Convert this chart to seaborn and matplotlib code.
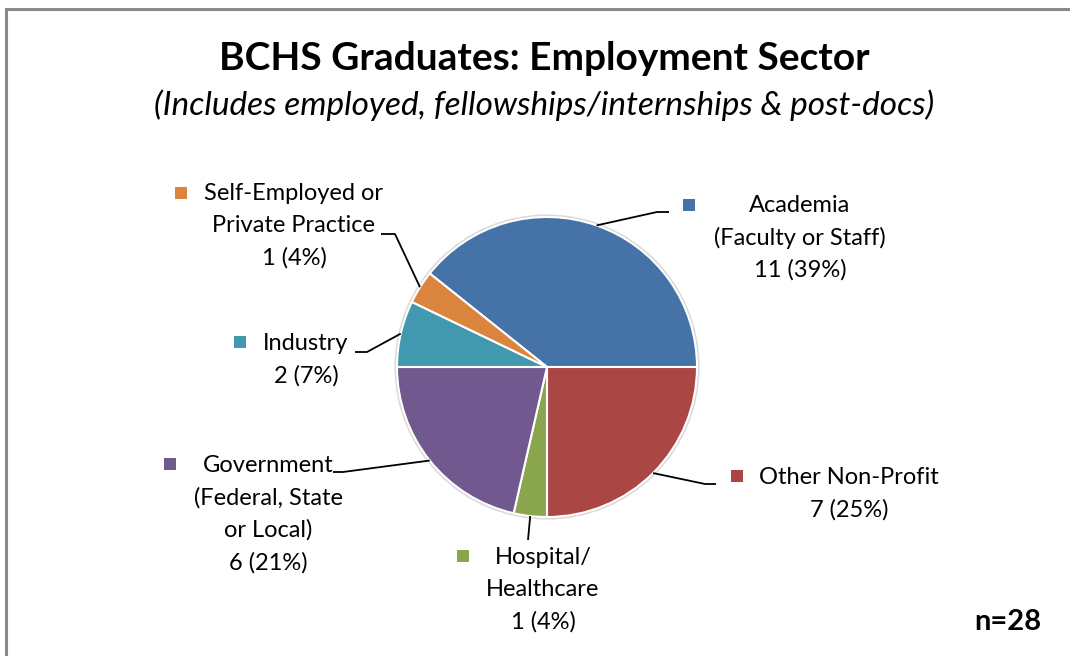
import numpy as np
import matplotlib
matplotlib.use("Agg")
import matplotlib.pyplot as plt
import seaborn as sns

# data (clockwise order, starting with Academia)
sectors = ["Academia\n(Faculty or Staff)", "Other Non-Profit", "Hospital/\nHealthcare",
           "Government\n(Federal, State\nor Local)", "Industry", "Self-Employed or\nPrivate Practice"]
counts = [11, 7, 1, 6, 2, 1]
colors = ["#4572A7", "#AA4643", "#89A54E", "#71588F", "#4198AF", "#DB843D"]

# label layout (pixel coords, y from top): text centre, legend square, elbow of leader line
label_pos = [(800, 205), (849, 477), (543, 557), (268, 465), (306, 343), (294, 193)]
square_pos = [(689, 205), (737, 476), (463, 556), (170, 464), (240, 342), (181, 193)]
elbow_pos = [[(657, 212), (669, 212)], [(705, 484), (716, 484)], [(528, 540)],
             [(343, 472), (333, 472)], [(367, 352), (355, 352)], [(395, 234), (381, 234)]]

W, H = 1070, 656
cx, cy, r = 547, 367, 150
total = sum(counts)

sns.set_style("white")
plt.rcParams["font.family"] = ["Lato", "DejaVu Sans"]
plt.rcParams["text.color"] = "black"

fig = plt.figure(figsize=(W / 100, H / 100), dpi=100)
ax = fig.add_axes([0, 0, 1, 1])

start = 360 * counts[0] / total
wedges, _ = ax.pie(counts, colors=colors, startangle=start, counterclock=False,
                   center=(cx, H - cy), radius=r,
                   wedgeprops=dict(edgecolor="white", linewidth=1.5))
ax.set_xlim(0, W)
ax.set_ylim(0, H)
ax.set_axis_off()

# faint outline around the pie
ax.add_patch(plt.Circle((cx, H - cy), r + 1.5, facecolor="none", edgecolor="#d9d9d9", lw=1.5, zorder=0))

# labels and leader lines
ang = start
for i, n in enumerate(counts):
    sweep = 360 * n / total
    mid = np.deg2rad(ang - sweep / 2)
    ang -= sweep
    x0, y0 = cx + r * np.cos(mid), (H - cy) + r * np.sin(mid)
    xs = [x0] + [p[0] for p in elbow_pos[i]]
    ys = [y0] + [H - p[1] for p in elbow_pos[i]]
    ax.plot(xs, ys, color="black", lw=1.3, solid_capstyle="butt")
    pct = round(100 * n / total)
    lx, ly = label_pos[i]
    lines = sectors[i].split("\n") + [f"{n} ({pct}%)"]
    for k, line in enumerate(lines):
        ax.text(lx, H - (ly + 32.5 * k), line, ha="center", va="center", fontsize=17, color="black")
    sx, sy = square_pos[i]
    ax.scatter([sx], [H - sy], marker="s", s=85, color=colors[i], zorder=5, linewidths=0)

# titles
ax.text(544, H - 58, "BCHS Graduates: Employment Sector", ha="center", va="center",
        fontsize=28, fontweight="bold")
ax.text(544, H - 105, "(Includes employed, fellowships/internships & post-docs)", ha="center",
        va="center", fontsize=24, style="italic")
ax.text(1008, H - 622, "n=28", ha="center", va="center", fontsize=21, fontweight="bold")

# chart border (only left and top visible)
ax.plot([6, 6, W], [0, H - 8.5, H - 8.5], color="#898989", lw=2.2, solid_joinstyle="miter")

fig.savefig("out.png", dpi=100, facecolor="white")
